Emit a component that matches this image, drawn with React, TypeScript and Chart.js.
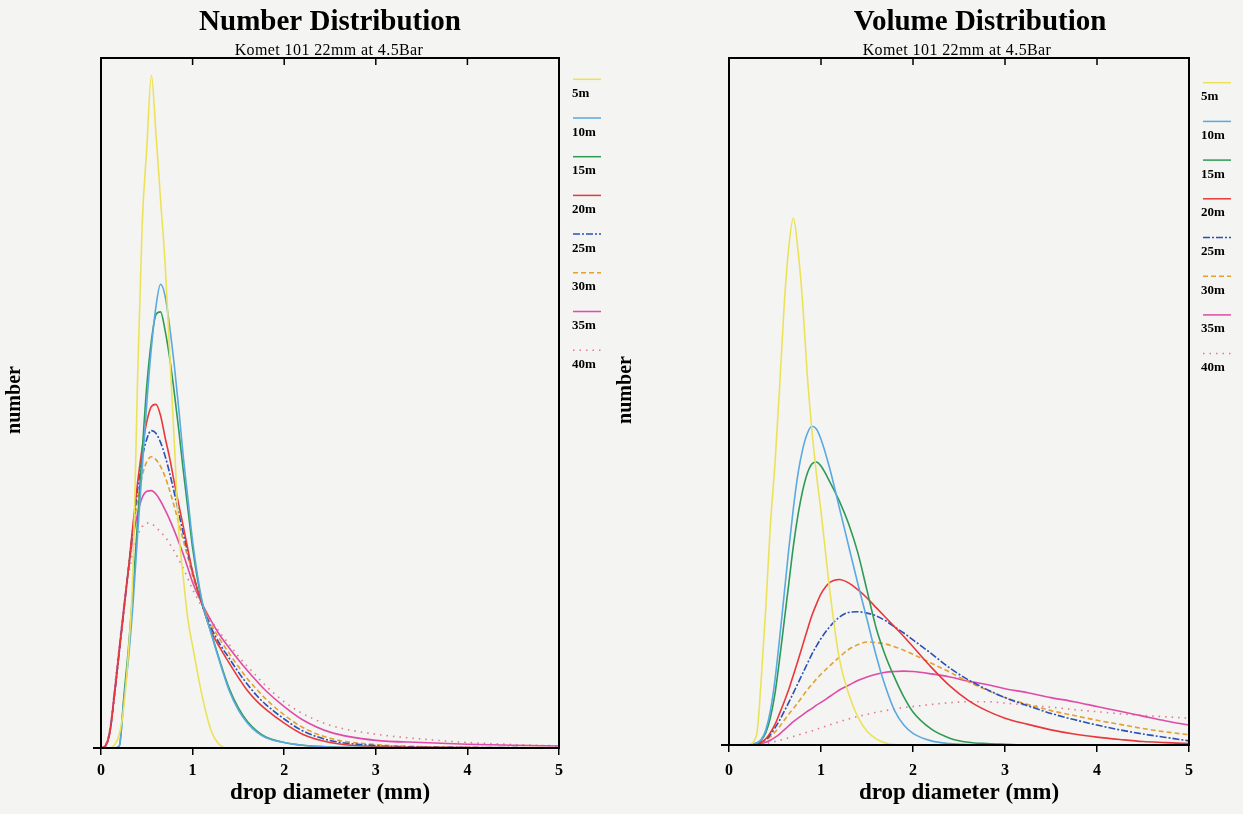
import React, { useEffect, useRef } from "react";
import { Chart, registerables } from "chart.js";

Chart.register(...registerables);

const FONT = '"Liberation Serif", "Times New Roman", serif';

// Sampling distances shared by the legend entries
const SERIES_NAMES = ["5m", "10m", "15m", "20m", "25m", "30m", "35m", "40m"];
const SERIES_COLORS = ["#ece25a", "#5aa9e2", "#2f9a55", "#e8383c", "#2a4fb8", "#e3a030", "#e04aa8", "#e07a8c"];
const SERIES_DASH: number[][] = [[], [], [], [], [7, 2, 2, 2], [5, 3], [], [1.5, 5]];

// Drop diameters (mm) for the number distribution
const NUMBER_D = [0, 0.05, 0.1, 0.15, 0.2, 0.25, 0.3, 0.35, 0.4, 0.45, 0.5, 0.55, 0.6, 0.65, 0.7, 0.75, 0.8, 0.85, 0.9, 0.95, 1.0, 1.1, 1.2, 1.3, 1.4, 1.5, 1.6, 1.7, 1.8, 2.0, 2.2, 2.5, 3.0, 3.5, 4.0, 4.5, 5.0];
const NUMBER_5M = [0, 0, 0, 0.5, 2, 6, 14, 26, 54, 76, 87, 97.5, 89, 79.5, 70.2, 57.2, 44.3, 31.3, 24.5, 18.5, 14.8, 7.8, 2.6, 0.4, 0, 0, 0, 0, 0, 0, 0, 0, 0, 0, 0, 0, 0];
const NUMBER_10M = [0, 0, 0, 0, 0.3, 7, 13, 21, 31, 40.5, 50, 58, 64, 67.2, 65.5, 61, 55.5, 49, 42, 36, 30, 21.5, 16.7, 12.3, 8.3, 5.5, 3.6, 2.3, 1.5, 0.8, 0.4, 0.15, 0.05, 0, 0, 0, 0];
const NUMBER_15M = [0, 0, 0, 0, 0.3, 7.5, 14.5, 23, 33, 43, 52.5, 59, 62.8, 63.2, 60.5, 56.5, 51.5, 46, 40, 34.5, 29, 21.3, 16.8, 12.5, 8.6, 5.8, 3.8, 2.5, 1.6, 0.8, 0.4, 0.15, 0.05, 0, 0, 0, 0];
const NUMBER_20M = [0, 0.3, 2.5, 8, 14, 20, 26, 32.5, 38.5, 43.5, 47.3, 49.5, 49.8, 48.2, 45, 42, 38.5, 35.2, 32, 28.7, 25.5, 21, 17, 14.5, 12.3, 10.2, 8.3, 6.8, 5.6, 3.6, 2.0, 0.8, 0.2, 0.1, 0.05, 0, 0];
const NUMBER_25M = [0, 0.3, 2.5, 8, 14, 20, 26, 32, 37.5, 42, 44.8, 46, 45.6, 44.3, 42.3, 39.8, 37, 34, 31, 28.2, 25.5, 21, 17.5, 15, 13, 11, 9.2, 7.6, 6.3, 4.2, 2.5, 1.1, 0.35, 0.15, 0.08, 0.05, 0.03];
const NUMBER_30M = [0, 0.3, 2.5, 8, 14, 20, 26, 31.5, 36, 39.5, 41.5, 42.2, 41.8, 40.8, 39.3, 37.3, 35, 32.5, 30, 27.5, 25, 21, 18, 15.7, 13.7, 11.8, 10, 8.5, 7.1, 4.8, 3.0, 1.4, 0.5, 0.2, 0.1, 0.06, 0.04];
const NUMBER_35M = [0, 0.4, 2.8, 8.5, 14.5, 20.5, 26, 30.5, 34, 36.3, 37.2, 37.3, 36.8, 35.8, 34.5, 33.1, 31.5, 29.8, 28, 26, 24, 21, 18.5, 16.3, 14.5, 12.8, 11.2, 9.7, 8.3, 6.0, 4.1, 2.3, 1.1, 0.8, 0.55, 0.4, 0.3];
const NUMBER_40M = [0, 0.5, 3, 9, 15, 20.5, 25, 28.5, 30.8, 32.1, 32.6, 32.5, 32, 31.3, 30.6, 29.6, 28.5, 27.3, 26, 24.5, 23, 20.5, 18.5, 16.7, 15, 13.3, 11.8, 10.4, 9.0, 6.7, 5.0, 3.3, 2.0, 1.3, 0.8, 0.5, 0.3];

// Drop diameters (mm) for the volume distribution
const VOLUME_D = [0, 0.2, 0.3, 0.35, 0.4, 0.45, 0.5, 0.55, 0.6, 0.65, 0.7, 0.75, 0.8, 0.85, 0.9, 0.95, 1.0, 1.1, 1.2, 1.3, 1.4, 1.5, 1.6, 1.7, 1.8, 1.9, 2.0, 2.2, 2.4, 2.6, 2.8, 3.0, 3.25, 3.5, 3.75, 4.0, 4.25, 4.5, 4.75, 5.0];
const VOLUME_5M = [0, 0, 1.5, 9.5, 20, 32, 41, 52, 64, 72.5, 76.7, 72, 64.5, 54, 46, 39.5, 34, 22, 12.5, 7.5, 4.1, 2.0, 0.9, 0.3, 0.05, 0, 0, 0, 0, 0, 0, 0, 0, 0, 0, 0, 0, 0, 0, 0];
const VOLUME_10M = [0, 0, 0.3, 0.8, 2.2, 5, 9.5, 15.5, 22, 28.5, 34.5, 39.5, 43, 45.3, 46.4, 46, 44.5, 40, 34.5, 29, 23.5, 18.3, 13, 8.5, 5, 2.9, 1.7, 0.6, 0.2, 0.05, 0, 0, 0, 0, 0, 0, 0, 0, 0, 0];
const VOLUME_15M = [0, 0, 0.3, 0.7, 1.8, 4, 7.5, 12.5, 18, 23.5, 29, 33.5, 37, 39.5, 40.9, 41.2, 40.6, 38.2, 35.5, 32.2, 28, 22.5, 17, 13, 9.8, 7, 4.8, 2.3, 1.0, 0.4, 0.2, 0.1, 0, 0, 0, 0, 0, 0, 0, 0];
const VOLUME_20M = [0, 0, 0.2, 0.4, 0.9, 1.8, 3, 4.6, 6.3, 8.1, 10.2, 12.3, 14.5, 16.7, 18.8, 20.5, 22, 23.7, 24.1, 23.6, 22.6, 21.4, 20, 18.6, 17.2, 15.8, 14.3, 11.3, 8.6, 6.5, 5.0, 3.9, 3.0, 2.2, 1.6, 1.15, 0.8, 0.5, 0.35, 0.2];
const VOLUME_25M = [0, 0, 0.2, 0.4, 0.8, 1.5, 2.5, 3.6, 4.9, 6.2, 7.6, 9.0, 10.4, 11.8, 13.2, 14.4, 15.5, 17.3, 18.6, 19.3, 19.4, 19.2, 18.8, 18.1, 17.2, 16.3, 15.3, 13.3, 11.2, 9.5, 8.1, 6.9, 5.7, 4.6, 3.7, 2.9, 2.2, 1.6, 1.1, 0.6];
const VOLUME_30M = [0, 0, 0.2, 0.4, 0.7, 1.2, 1.9, 2.7, 3.6, 4.5, 5.3, 6.2, 7.1, 8.0, 8.8, 9.6, 10.3, 11.6, 12.8, 13.9, 14.6, 15.0, 14.9, 14.7, 14.3, 13.8, 13.2, 11.9, 10.6, 9.2, 8.0, 6.9, 5.9, 5.0, 4.3, 3.6, 3.0, 2.4, 1.9, 1.5];
const VOLUME_35M = [0, 0, 0.1, 0.2, 0.4, 0.7, 1.1, 1.6, 2.2, 2.8, 3.4, 3.9, 4.4, 4.9, 5.3, 5.8, 6.2, 7.1, 8.0, 8.7, 9.4, 9.9, 10.3, 10.6, 10.7, 10.75, 10.7, 10.35, 9.9, 9.3, 8.8, 8.2, 7.6, 6.9, 6.3, 5.6, 4.9, 4.2, 3.5, 2.9];
const VOLUME_40M = [0, 0, 0, 0.1, 0.2, 0.35, 0.5, 0.7, 0.85, 1.05, 1.25, 1.45, 1.65, 1.85, 2.05, 2.3, 2.5, 2.95, 3.4, 3.8, 4.15, 4.45, 4.75, 5.0, 5.25, 5.45, 5.6, 5.9, 6.15, 6.3, 6.3, 6.1, 5.8, 5.5, 5.15, 4.85, 4.55, 4.3, 4.1, 3.9];

const X_TICKS = [0, 1, 2, 3, 4, 5];

const NUMBER_SERIES = [NUMBER_5M, NUMBER_10M, NUMBER_15M, NUMBER_20M, NUMBER_25M, NUMBER_30M, NUMBER_35M, NUMBER_40M];
const VOLUME_SERIES = [VOLUME_5M, VOLUME_10M, VOLUME_15M, VOLUME_20M, VOLUME_25M, VOLUME_30M, VOLUME_35M, VOLUME_40M];

// Frame, inward top ticks, headings, rotated y label and the stacked legend
const panelDecor = {
  id: "panelDecor",
  afterDatasetsDraw(chart: any, _args: any, opts: any) {
    const { ctx, chartArea: a, scales } = chart;
    const xs = scales.x;
    ctx.save();
    ctx.strokeStyle = "#000";
    ctx.lineWidth = 2;
    ctx.setLineDash([]);
    ctx.strokeRect(a.left, a.top, a.right - a.left, a.bottom - a.top);
    ctx.beginPath();
    ctx.moveTo(a.left - 8, a.bottom);
    ctx.lineTo(a.left, a.bottom);
    ctx.stroke();

    ctx.lineWidth = 1.5;
    for (const v of X_TICKS) {
      if (v <= xs.min || v >= xs.max) continue;
      const px = xs.getPixelForValue(v);
      ctx.beginPath();
      ctx.moveTo(px, a.top);
      ctx.lineTo(px, a.top + 7);
      ctx.stroke();
    }

    ctx.fillStyle = "#000";
    ctx.textAlign = "center";
    ctx.textBaseline = "alphabetic";
    ctx.font = `bold 29px ${FONT}`;
    ctx.fillText(opts.title, opts.titleX, 30);
    ctx.font = `16px ${FONT}`;
    (ctx as any).letterSpacing = "0.4px";
    ctx.fillText(opts.subtitle, opts.subtitleX, 55);
    (ctx as any).letterSpacing = "0px";

    ctx.save();
    ctx.translate(opts.yLabelX, opts.yLabelY);
    ctx.rotate(-Math.PI / 2);
    ctx.font = `bold 20px ${FONT}`;
    ctx.textBaseline = "middle";
    ctx.fillText("number", 0, 0);
    ctx.restore();

    const step = 38.7;
    chart.data.datasets.forEach((ds: any, i: number) => {
      const ly = opts.legendLineY + i * step;
      ctx.strokeStyle = ds.borderColor;
      ctx.lineWidth = 1.5;
      ctx.setLineDash(ds.borderDash || []);
      ctx.beginPath();
      ctx.moveTo(opts.legendLineX, ly);
      ctx.lineTo(opts.legendLineX + 28, ly);
      ctx.stroke();
      ctx.setLineDash([]);
      ctx.fillStyle = "#000";
      ctx.font = `bold 13px ${FONT}`;
      ctx.textAlign = "left";
      ctx.textBaseline = "middle";
      ctx.fillText(ds.label, opts.legendLabelX, ly + 14.2);
    });
    ctx.restore();
  },
};

type PanelProps = {
  left: number;
  width: number;
  diam: number[];
  series: number[][];
  padding: { left: number; right: number; top: number; bottom: number };
  axisHeight: number;
  tickPadding: number;
  decor: any;
};

function Panel({ left, width, diam, series, padding, axisHeight, tickPadding, decor }: PanelProps) {
  const ref = useRef<HTMLCanvasElement | null>(null);

  useEffect(() => {
    if (!ref.current) return;
    const datasets = series.map((vals, i) => ({
      label: SERIES_NAMES[i],
      data: diam.map((d, k) => ({ x: d, y: vals[k] })),
      borderColor: SERIES_COLORS[i],
      borderDash: SERIES_DASH[i],
      borderWidth: 1.6,
      pointRadius: 0,
      fill: false,
      cubicInterpolationMode: "monotone" as const,
    }));
    const chart = new Chart(ref.current, {
      type: "line",
      data: { datasets },
      plugins: [panelDecor],
      options: {
        animation: false,
        responsive: false,
        events: [],
        layout: { padding },
        scales: {
          x: {
            type: "linear",
            min: 0,
            max: 5,
            afterBuildTicks: (scale: any) => {
              scale.ticks = X_TICKS.map((v) => ({ value: v }));
            },
            afterFit: (scale: any) => {
              scale.height = axisHeight;
            },
            ticks: {
              color: "#000",
              padding: tickPadding,
              maxRotation: 0,
              font: { family: FONT, size: 16, weight: "bold" },
            },
            grid: {
              drawOnChartArea: false,
              drawTicks: true,
              tickLength: 7,
              color: "#000",
              lineWidth: 1.5,
            },
            border: { display: true, color: "#000", width: 2 },
            title: {
              display: true,
              text: "drop diameter (mm)",
              color: "#000",
              font: { family: FONT, size: 23, weight: "bold" },
              padding: { top: 0, bottom: 7 },
            },
          },
          y: { type: "linear", min: 0, max: 100, display: false },
        },
        plugins: {
          legend: { display: false },
          tooltip: { enabled: false },
          title: { display: false },
          panelDecor: decor,
        } as any,
      },
    });
    return () => chart.destroy();
  }, []);

  return (
    <canvas
      ref={ref}
      width={width}
      height={814}
      style={{ position: "absolute", left, top: 0, width, height: 814 }}
    />
  );
}

export default function App() {
  return (
    <div
      style={{
        position: "fixed",
        left: 0,
        top: 0,
        width: 1243,
        height: 814,
        background: "#f4f4f2",
        overflow: "hidden",
      }}
    >
      <Panel
        left={0}
        width={610}
        diam={NUMBER_D}
        series={NUMBER_SERIES}
        padding={{ left: 101, right: 51, top: 58, bottom: 0 }}
        axisHeight={66}
        tickPadding={6}
        decor={{
          title: "Number Distribution",
          titleX: 330,
          subtitle: "Komet 101 22mm at 4.5Bar",
          subtitleX: 329,
          yLabelX: 15,
          yLabelY: 400,
          legendLineX: 573,
          legendLineY: 79.3,
          legendLabelX: 572,
        }}
      />
      <Panel
        left={610}
        width={633}
        diam={VOLUME_D}
        series={VOLUME_SERIES}
        padding={{ left: 119, right: 54, top: 58, bottom: 0 }}
        axisHeight={69}
        tickPadding={9}
        decor={{
          title: "Volume Distribution",
          titleX: 370,
          subtitle: "Komet 101 22mm at 4.5Bar",
          subtitleX: 347,
          yLabelX: 16,
          yLabelY: 390,
          legendLineX: 593,
          legendLineY: 82.7,
          legendLabelX: 591,
        }}
      />
    </div>
  );
}
